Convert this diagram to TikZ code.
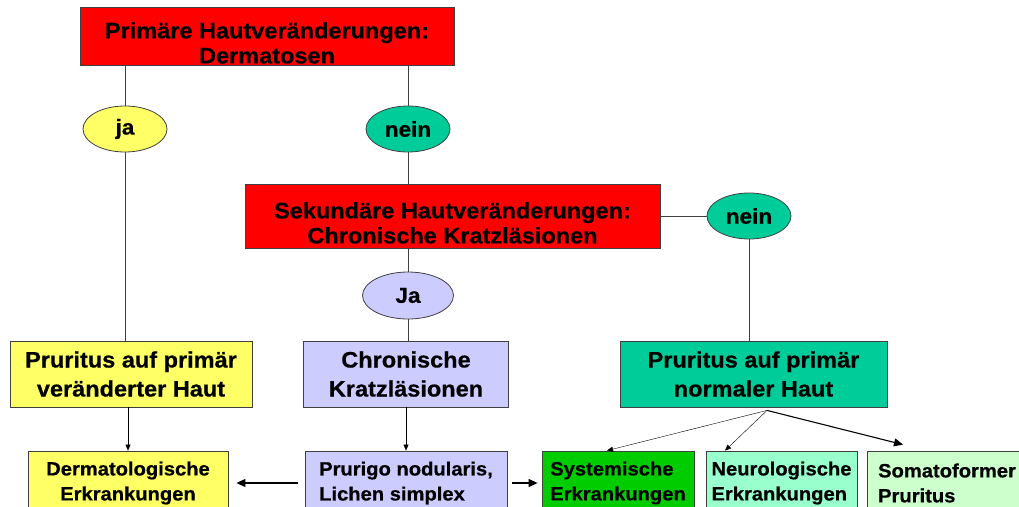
\documentclass[tikz,border=0pt]{standalone}
\usepackage{fontspec}
\setmainfont{Liberation Sans}[FakeStretch=1.05, BoldFeatures={FakeBold=0.6}]
\usetikzlibrary{arrows.meta,shapes.geometric}

\definecolor{hautred}{HTML}{FF0000}
\definecolor{jayellow}{HTML}{FFFF66}
\definecolor{neinteal}{HTML}{00CC99}
\definecolor{kratzlila}{HTML}{CCCCFF}
\definecolor{sysgreen}{HTML}{00CC00}
\definecolor{neuromint}{HTML}{99FFCC}
\definecolor{somapale}{HTML}{CCFFCC}
\definecolor{rim}{HTML}{404040}

\begin{document}
\begin{tikzpicture}[
  x=1pt, y=-1pt,
  >={Triangle[length=6pt,width=5pt]},
  head/.style={draw=rim, line width=0.8pt, fill=hautred, align=center, inner sep=0pt, font=\fontsize{22.4}{25}\selectfont\bfseries},
  mid/.style={draw=rim, line width=0.8pt, align=center, inner sep=0pt, minimum height=66pt, font=\fontsize{22.4}{29}\selectfont\bfseries},
  answer/.style={draw=rim, line width=0.8pt, ellipse, inner sep=0pt, minimum width=84pt, minimum height=46pt, font=\fontsize{21.5}{24}\selectfont\bfseries},
  leaf/.style={draw=rim, line width=0.8pt, align=left, inner sep=0pt, minimum height=64pt, font=\fontsize{19.2}{25}\selectfont\bfseries},
  link/.style={draw=rim, line width=0.8pt},
  bigtip/.style={line width=1.1pt, -{Triangle[length=9pt,width=8pt]}}
]
\useasboundingbox (0,0) rectangle (1019,506);
\clip (0,0) rectangle (1019,506);

\node[head, minimum width=374pt, minimum height=58pt] (primaer) at (267,36) {\rule{0pt}{30pt}Primäre Hautveränderungen:\\Dermatosen};
\node[answer, fill=jayellow] (ja) at (125,129) {ja};
\node[answer, fill=neinteal] (nein) at (408,129) {nein};
\node[head, minimum width=415pt, minimum height=64pt] (sekundaer) at (452.5,216) {\rule{0pt}{30pt}Sekundäre Hautveränderungen:\\Chronische Kratzläsionen};
\node[answer, fill=neinteal] (neinB) at (749,216) {nein};
\node[answer, fill=kratzlila, minimum width=91pt, minimum height=47pt] (jaB) at (408,295.5) {Ja};

\node[mid, fill=jayellow, minimum width=242pt] (verHaut) at (131,374) {Pruritus auf primär\\veränderter Haut};
\node[mid, fill=kratzlila, minimum width=205pt] (kratz) at (406,374) {Chronische\\Kratzläsionen};
\node[mid, fill=neinteal, minimum width=267pt] (normHaut) at (753.5,374) {Pruritus auf primär\\normaler Haut};

\node[leaf, fill=jayellow, align=center, minimum width=200pt] (dermato) at (128,483) {Dermatologische\\Erkrankungen};
\node[leaf, fill=kratzlila, minimum width=202pt] (prurigo) at (406,483) {Prurigo nodularis,\\Lichen simplex};
\node[leaf, fill=sysgreen, minimum width=152pt] (system) at (618,483) {Systemische\\Erkrankungen};
\node[leaf, fill=neuromint, minimum width=151pt] (neuro) at (781.5,483) {Neurologische\\Erkrankungen};
\node[leaf, fill=somapale, minimum width=160pt] (somato) at (947,483) {Somatoformer\\Pruritus};

\draw[link] (ja.north |- primaer.south) -- (ja.north);
\draw[link] (ja.south) -- (ja.south |- verHaut.north);
\draw[link] (nein.north |- primaer.south) -- (nein.north);
\draw[link] (nein.south) -- (nein.south |- sekundaer.north);
\draw[link] (sekundaer.east) -- (neinB.west);
\draw[link] (neinB.south) -- (neinB.south |- normHaut.north);
\draw[link] (jaB.north |- sekundaer.south) -- (jaB.north);
\draw[link] (jaB.south) -- (jaB.south |- kratz.north);

\draw[->] (dermato.north |- verHaut.south) -- (dermato.north);
\draw[->] (kratz.south) -- (prurigo.north);
\draw[bigtip, shorten <=7pt, shorten >=8pt] (prurigo.west) -- (dermato.east);
\draw[bigtip, shorten <=5pt, shorten >=4pt] (prurigo.east) -- (system.west);

\coordinate (fan) at ([xshift=13.5pt,yshift=-3pt]normHaut.south);
\draw[->] (fan) -- ([xshift=-11pt]system.north);
\draw[->] (fan) -- ([xshift=-56.5pt]neuro.north);
\draw[bigtip] (fan) -- ([xshift=-44pt,yshift=6pt]somato.north);

\end{tikzpicture}
\end{document}
